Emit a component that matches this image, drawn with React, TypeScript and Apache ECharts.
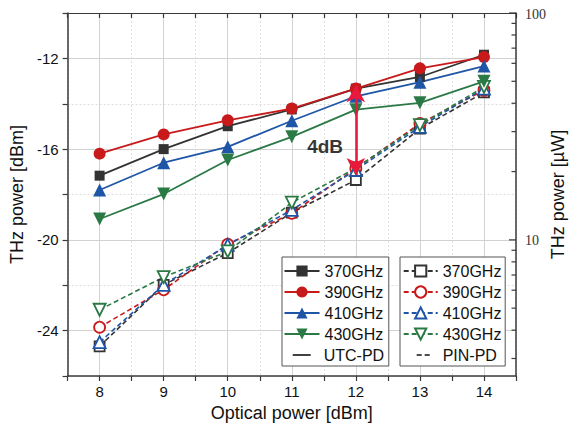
import React, { useEffect, useRef } from 'react';
import * as echarts from 'echarts';

// ---------- data ----------
const opticalPower = [8, 9, 10, 11, 12, 13, 14];
const frequencies = ['370GHz', '390GHz', '410GHz', '430GHz'];
const utc370 = [-17.17, -16.0, -14.99, -14.25, -13.33, -12.82, -11.84];
const utc390 = [-16.2, -15.35, -14.73, -14.21, -13.33, -12.44, -11.94];
const utc410 = [-17.8, -16.6, -15.9, -14.75, -13.67, -13.05, -12.34];
const utc430 = [-19.08, -17.98, -16.48, -15.46, -14.26, -13.96, -13.01];
const pin370 = [-24.69, -21.98, -20.58, -18.8, -17.36, -15.1, -13.5];
const pin390 = [-23.85, -22.2, -20.19, -18.83, -16.85, -14.87, -13.41];
const pin410 = [-24.51, -21.98, -20.22, -18.68, -16.92, -15.02, -13.33];
const pin430 = [-23.08, -21.64, -20.51, -18.36, -16.84, -14.94, -13.26];
const rightTickValuesUW = [3, 4, 5, 6, 7, 8, 9, 10, 20, 30, 40, 50, 60, 70, 80, 90, 100];
const rightTickLabels = ['10', '100'];
const gapArrow = { x: 12, from: -13.19, to: -17.14 };
const gapLabel = { text: '4dB', pos: [11.52, -15.9] };

// ---------- style ----------
const FONT = '"Liberation Sans", Arial, Helvetica, sans-serif';
const SERIF = '"Liberation Serif", "Times New Roman", serif';
const colors = ['#333333', '#c81a1a', '#1f55a6', '#2b7a46'];
const symbols = ['rect', 'circle', 'triangle', 'triangle'];
const rotates = [0, 0, 0, 180];
const solidSizes = [10, 12, 13, 13];
const hollowSizes = [10, 11, 12, 12];
const X_MIN = 7.5;
const X_MAX = 14.5;
const Y_MIN = -26;
const Y_MAX = -10;
const AXIS_COLOR = '#3a3a3a';
const GRID_MAJOR = '#d2d2d2';
const GRID_MINOR = '#dedede';
const TRANSPARENT = 'rgba(0,0,0,0)';

const toDbm = (uw: number) => 10 * Math.log10(uw / 1000);

export default function App() {
  const ref = useRef<HTMLDivElement>(null);

  useEffect(() => {
    if (!ref.current) return;
    const chart = echarts.init(ref.current, undefined, { renderer: 'svg' });

    const utcSets = [utc370, utc390, utc410, utc430];
    const pinSets = [pin370, pin390, pin410, pin430];

    const utcSeries = utcSets.map((vals, i) => ({
      name: 'UTC-PD ' + frequencies[i],
      type: 'line',
      xAxisIndex: 0,
      yAxisIndex: 0,
      data: opticalPower.map((x, j) => [x, vals[j]]),
      symbol: symbols[i],
      symbolRotate: rotates[i],
      symbolSize: solidSizes[i],
      z: 3,
      lineStyle: { color: colors[i], width: 1.8, type: 'solid' },
      itemStyle: { color: colors[i] },
      ...(i === 1
        ? {
            markLine: {
              silent: true,
              symbol: ['arrow', 'arrow'],
              symbolSize: [14, 17],
              label: { show: false },
              lineStyle: { color: '#e8193c', width: 2.6, type: 'solid' },
              itemStyle: { color: '#e8193c' },
              data: [[{ coord: [gapArrow.x, gapArrow.from] }, { coord: [gapArrow.x, gapArrow.to] }]],
            },
          }
        : {}),
    }));

    const pinSeries = pinSets.map((vals, i) => ({
      name: 'PIN-PD ' + frequencies[i],
      type: 'line',
      xAxisIndex: 0,
      yAxisIndex: 0,
      data: opticalPower.map((x, j) => [x, vals[j]]),
      symbol: symbols[i],
      symbolRotate: rotates[i],
      symbolSize: hollowSizes[i],
      z: 2,
      lineStyle: { color: colors[i], width: 1.6, type: [5, 3] },
      itemStyle: { color: '#ffffff', borderColor: colors[i], borderWidth: 1.8 },
    }));

    const keySeries = [
      {
        name: 'UTC-PD',
        type: 'line',
        data: [],
        symbol: 'none',
        lineStyle: { color: '#111', width: 1.5, type: 'solid' },
        itemStyle: { color: '#111' },
      },
      {
        name: 'PIN-PD',
        type: 'line',
        data: [],
        symbol: 'none',
        lineStyle: { color: '#111', width: 1.5, type: [4, 3] },
        itemStyle: { color: '#111' },
      },
    ];

    const rightTicks = {
      name: 'rightTicks',
      type: 'custom',
      xAxisIndex: 0,
      yAxisIndex: 0,
      silent: true,
      z: 6,
      data: rightTickValuesUW.map((v) => [X_MAX, toDbm(v), v]),
      renderItem: (params: any, api: any) => {
        const uw = api.value(2);
        const pt = api.coord([api.value(0), api.value(1)]);
        const label = String(uw);
        const major = rightTickLabels.indexOf(label) >= 0;
        const len = major ? 7 : 4.5;
        const children: any[] = [
          {
            type: 'line',
            shape: { x1: pt[0] - len, y1: pt[1], x2: pt[0], y2: pt[1] },
            style: { stroke: AXIS_COLOR, lineWidth: 1.2 },
          },
        ];
        if (major) {
          children.push({
            type: 'text',
            x: pt[0] + 9,
            y: pt[1] + 1,
            style: {
              text: label,
              fontFamily: SERIF,
              fontSize: 14,
              fill: '#333',
              align: 'left',
              verticalAlign: 'middle',
            },
          });
        }
        return { type: 'group', children };
      },
    };

    const annotation = {
      name: 'annotation',
      type: 'scatter',
      xAxisIndex: 0,
      yAxisIndex: 0,
      silent: true,
      z: 7,
      data: [gapLabel.pos],
      symbolSize: 0,
      itemStyle: { color: '#000' },
      label: {
        show: true,
        position: [0, 0],
        align: 'center',
        verticalAlign: 'middle',
        formatter: gapLabel.text,
        fontFamily: FONT,
        fontSize: 19,
        fontWeight: 'bold',
        color: '#000',
        textBorderWidth: 0,
      },
    };

    const legendText = { fontFamily: FONT, fontSize: 16, lineHeight: 16, color: '#111' };

    const option: any = {
      animation: false,
      backgroundColor: '#ffffff',
      textStyle: { fontFamily: FONT },
      grid: { left: 67, right: 59, top: 13, bottom: 54, containLabel: false },
      xAxis: [
        {
          type: 'value',
          position: 'bottom',
          min: X_MIN,
          max: X_MAX,
          interval: 0.5,
          name: 'Optical power [dBm]',
          nameLocation: 'middle',
          nameGap: 27,
          nameTextStyle: { fontFamily: FONT, fontSize: 18, color: '#111' },
          axisLine: { show: true, lineStyle: { color: AXIS_COLOR, width: 1.5 } },
          axisTick: { show: true, inside: false, length: 5, lineStyle: { color: AXIS_COLOR, width: 1.2 } },
          axisLabel: {
            margin: 8,
            fontFamily: FONT,
            fontSize: 15,
            color: '#111',
            formatter: (v: number) => (Number.isInteger(v) ? String(v) : ''),
          },
          splitLine: { show: true, lineStyle: { color: [TRANSPARENT, GRID_MAJOR], width: 1, type: 'solid' } },
        },
        {
          type: 'value',
          position: 'top',
          min: X_MIN,
          max: X_MAX,
          interval: 0.5,
          axisLine: { show: true, lineStyle: { color: AXIS_COLOR, width: 1.2 } },
          axisTick: { show: true, inside: true, length: 5, lineStyle: { color: AXIS_COLOR, width: 1.2 } },
          axisLabel: { show: false },
          splitLine: { show: true, lineStyle: { color: [GRID_MINOR, TRANSPARENT], width: 1, type: [2, 2] } },
        },
      ],
      yAxis: [
        {
          type: 'value',
          position: 'left',
          min: Y_MIN,
          max: Y_MAX,
          interval: 2,
          name: 'THz power [dBm]',
          nameLocation: 'middle',
          nameRotate: 90,
          nameGap: 34,
          nameTextStyle: { fontFamily: FONT, fontSize: 18, color: '#111' },
          axisLine: { show: true, lineStyle: { color: AXIS_COLOR, width: 1.5 } },
          axisTick: { show: true, inside: false, length: 5, lineStyle: { color: AXIS_COLOR, width: 1.2 } },
          axisLabel: {
            margin: 9,
            fontFamily: FONT,
            fontSize: 15,
            color: '#111',
            formatter: (v: number) => (Math.abs(v) % 4 === 0 ? String(v) : ''),
          },
          splitLine: { show: true, lineStyle: { color: [TRANSPARENT, GRID_MAJOR], width: 1, type: 'solid' } },
        },
        {
          type: 'value',
          position: 'right',
          min: Y_MIN,
          max: Y_MAX,
          interval: 2,
          name: 'THz power [µW]',
          nameLocation: 'middle',
          nameRotate: 90,
          nameGap: 33,
          nameTextStyle: { fontFamily: FONT, fontSize: 18, color: '#111' },
          axisLine: { show: true, lineStyle: { color: AXIS_COLOR, width: 1.5 } },
          axisTick: { show: false },
          axisLabel: { show: false },
          splitLine: { show: true, lineStyle: { color: [GRID_MINOR, TRANSPARENT], width: 1, type: [2, 2] } },
        },
      ],
      legend: [
        {
          orient: 'vertical',
          left: 282,
          top: 257,
          padding: [6, 5.6, 24, 1.5],
          itemWidth: 35,
          itemHeight: 14,
          itemGap: 5,
          selectedMode: false,
          backgroundColor: '#ffffff',
          borderColor: '#555',
          borderWidth: 1,
          data: frequencies.map((f) => 'UTC-PD ' + f),
          formatter: (name: string) => name.split(' ')[1],
          textStyle: legendText,
        },
        {
          orient: 'vertical',
          left: 292.7,
          top: 347,
          padding: 0,
          itemWidth: 18,
          itemHeight: 1.6,
          icon: 'rect',
          selectedMode: false,
          data: ['UTC-PD'],
          formatter: (name: string) => '{p|' + name + '}',
          textStyle: { ...legendText, rich: { p: { ...legendText, padding: [0, 0, 0, 8] } } },
        },
        {
          orient: 'vertical',
          left: 400,
          top: 257,
          padding: [6, 3.8, 24, 2.7],
          itemWidth: 34,
          itemHeight: 14,
          itemGap: 5,
          selectedMode: false,
          backgroundColor: '#ffffff',
          borderColor: '#555',
          borderWidth: 1,
          data: frequencies.map((f) => 'PIN-PD ' + f),
          formatter: (name: string) => name.split(' ')[1],
          textStyle: legendText,
        },
        {
          orient: 'vertical',
          left: 416.7,
          top: 347,
          padding: 0,
          itemWidth: 13,
          itemHeight: 1.6,
          icon: 'path://M0,0H5V1.5H0ZM8,0H13V1.5H8Z',
          selectedMode: false,
          data: ['PIN-PD'],
          formatter: (name: string) => '{p|' + name + '}',
          textStyle: { ...legendText, rich: { p: { ...legendText, padding: [0, 0, 0, 8] } } },
        },
      ],
      series: [...pinSeries, ...utcSeries, ...keySeries, rightTicks, annotation],
    };

    chart.setOption(option);
    return () => chart.dispose();
  }, []);

  return (
    <div
      ref={ref}
      style={{ position: 'fixed', left: 0, top: 0, width: 575, height: 430, background: '#fff' }}
    />
  );
}
